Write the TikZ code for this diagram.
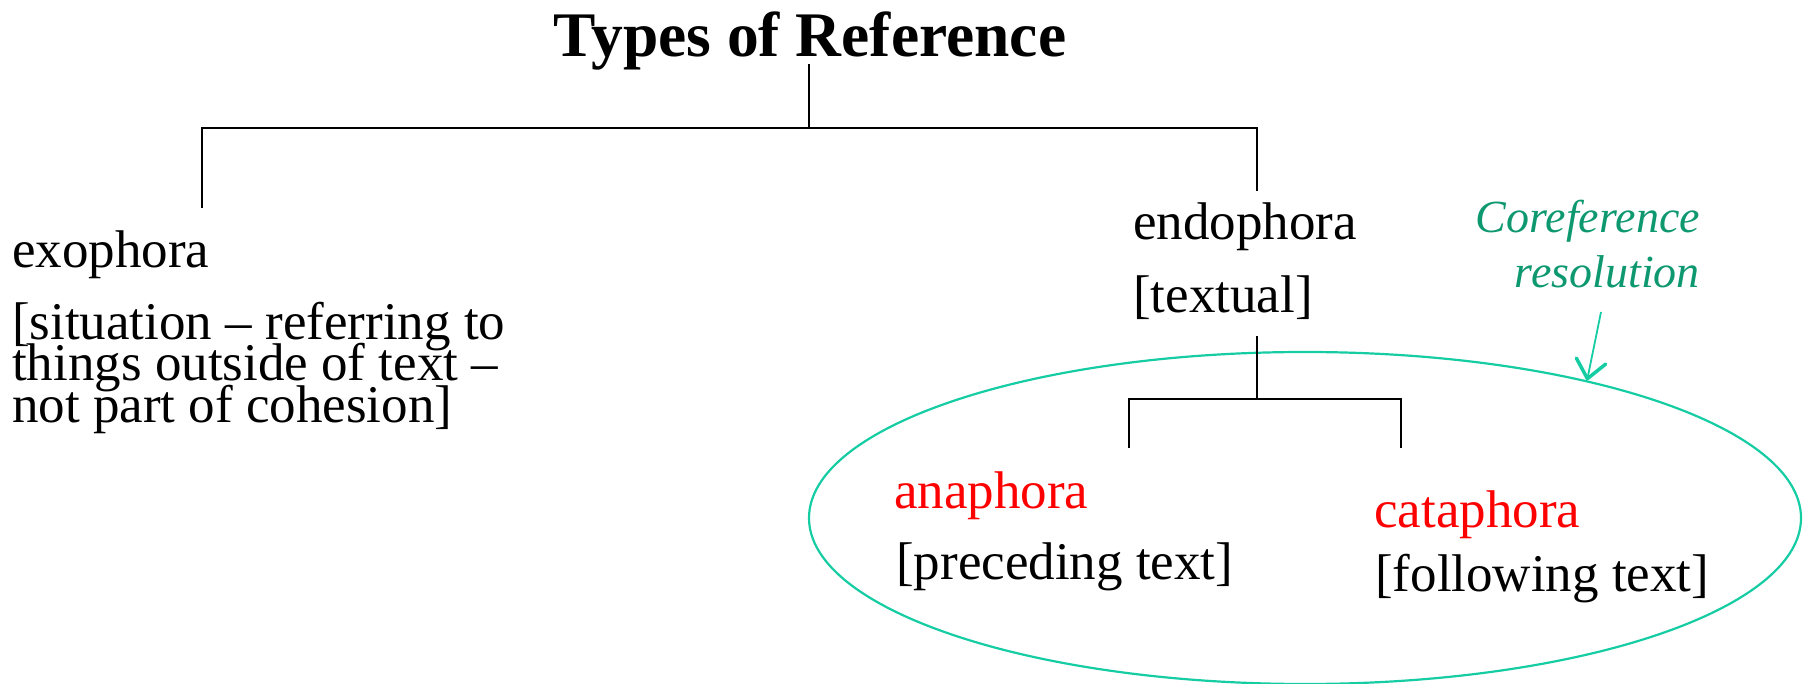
\documentclass[tikz,border=0pt]{standalone}
\usepackage{fontspec}
\setmainfont{Liberation Serif}
\usetikzlibrary{shapes.geometric,arrows.meta}
\definecolor{ringteal}{RGB}{22,204,163}
\definecolor{notegreen}{RGB}{14,152,112}
\definecolor{termred}{RGB}{255,0,0}
% fixed line pitch, even where brackets are tall
\newcommand\fixedpitch{\lineskiplimit=-100pt\relax\lineskip=0pt\relax}

\begin{document}
\begin{tikzpicture}[x=1pt,y=-1pt,
  branch/.style={draw=black, line width=2pt},
  termtext/.style={inner sep=0pt, anchor=base west,
                   font=\fontsize{53}{41.5}\selectfont\fixedpitch},
  redterm/.style={termtext, text=termred},
  ring/.style={ellipse, draw=ringteal, line width=2.2pt, inner sep=0pt,
               minimum width=992pt, minimum height=332pt},
  notetext/.style={inner sep=0pt, anchor=base east, align=right, text=notegreen,
                   font=\fontsize{46}{55}\selectfont\itshape},
  pointer/.style={draw=ringteal, line width=1.8pt,
                  -{Straight Barb[length=18pt,width=30pt,line width=3.5pt,round]}}]

\useasboundingbox (0,0) rectangle (1810,684);

% heading
\node[inner sep=0pt, anchor=base, font=\fontsize{63.5}{70}\selectfont\bfseries]
  (title) at (810,57) {Types of Reference};

% first level (multi-line nodes sit on the baseline of their last line)
\node[termtext] (exo) at (12,268) {exophora};
\node[termtext, align=left] (exodesc) at (12,422)
  {[situation -- referring to\\things outside of text --\\not part of cohesion]};
\node[termtext] (endo) at (1133,240) {endophora};
\node[termtext] (endodesc) at (1133,313) {[textual]};

% second level
\node[redterm] (ana) at (894,508) {anaphora};
\node[termtext] (anadesc) at (896,579) {[preceding text]};
\node[redterm] (cata) at (1374,527) {cataphora};
\node[termtext] (catadesc) at (1375,591) {[following text]};

% grouping ring and its note
\node[ring] (coref) at (1305,518) {};
\node[notetext] (note) at (1700,288) {Coreference\\resolution};

% junction points of the tree
\coordinate (top) at (809,128);
\coordinate (exoleg) at (202,208);
\coordinate (endoleg) at (1257,191);
\coordinate (sub) at (1257,399);
\coordinate (analeg) at (1129,448);
\coordinate (cataleg) at (1401,448);
\coordinate (notetail) at (1601,312);

% tree branches
\draw[branch] ([yshift=-7pt]title.base -| top) -- (top);
\draw[branch] (exoleg) -- (exoleg |- top) -- (endoleg |- top) -- (endoleg);
\draw[branch] ([yshift=-23pt]endodesc.base -| sub) -- (sub);
\draw[branch] (analeg) -- (analeg |- sub) -- (cataleg |- sub) -- (cataleg);

% note pointer
\draw[pointer] (notetail) -- (coref.26);
\end{tikzpicture}
\end{document}
